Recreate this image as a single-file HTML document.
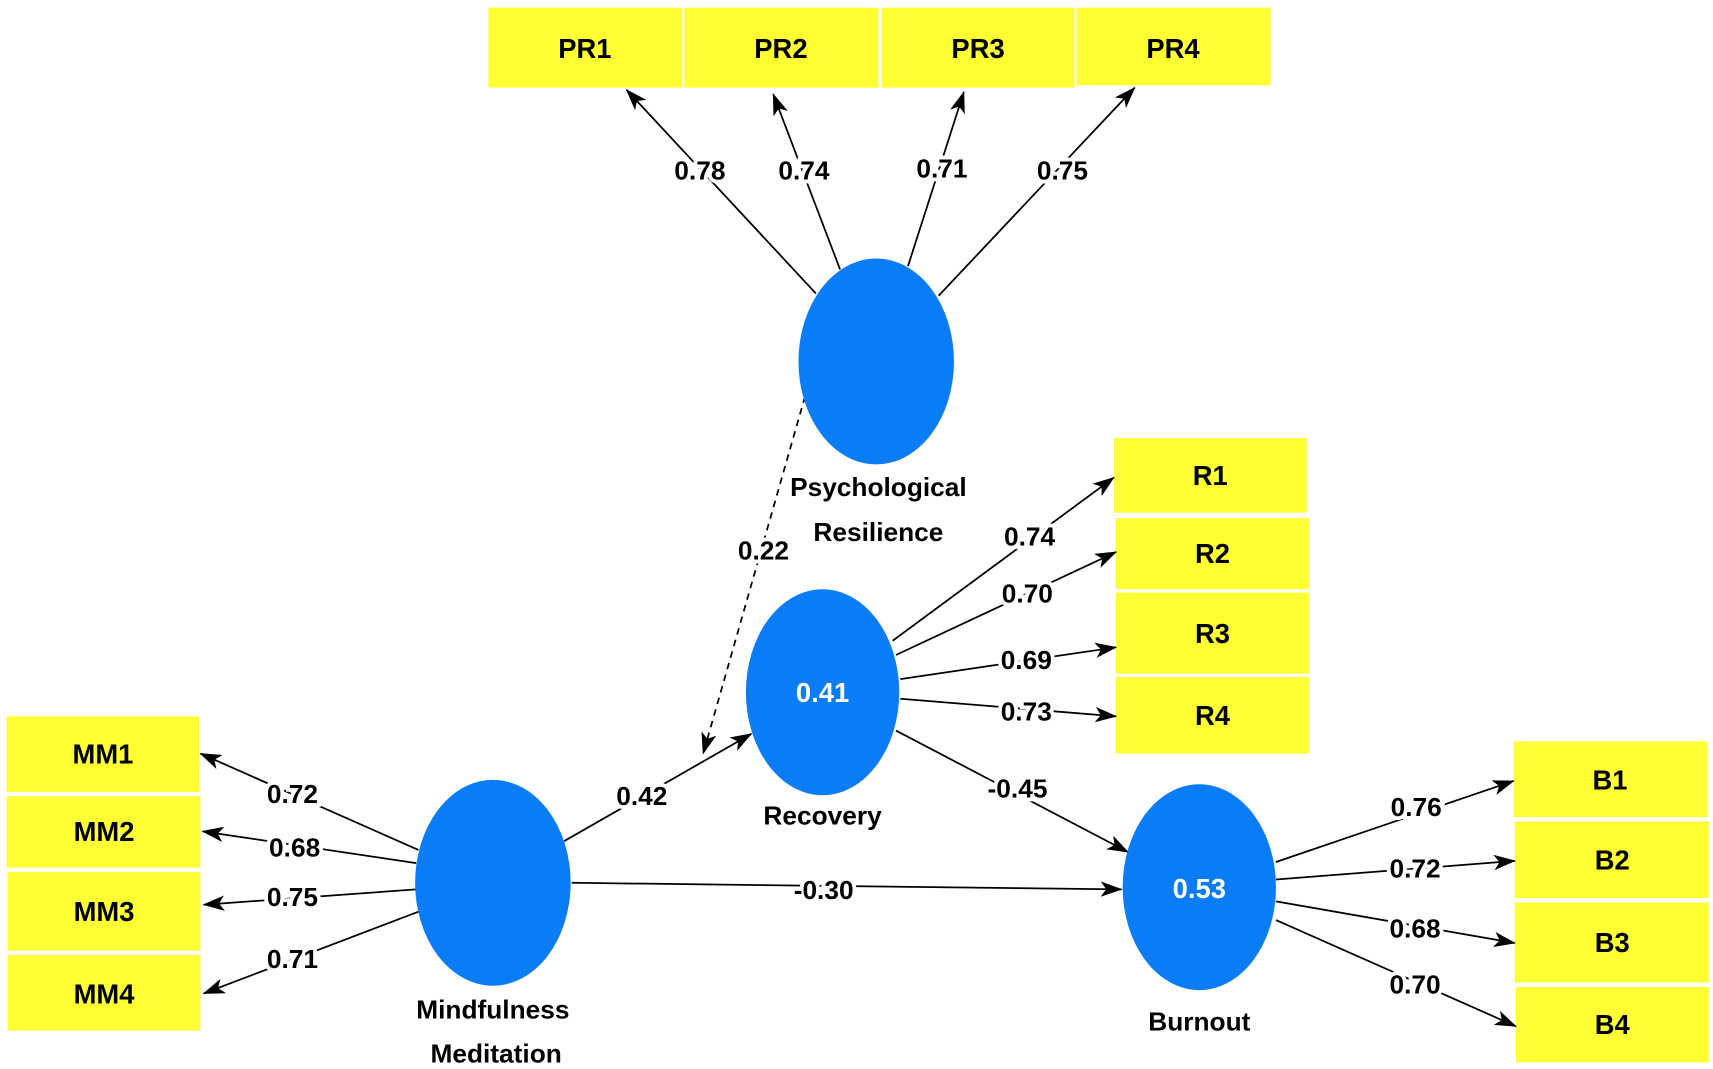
<!DOCTYPE html>
<html><head><meta charset="utf-8"><style>
html,body{margin:0;padding:0;background:#fff;}
svg{display:block;}
text{font-family:"Liberation Sans",Arial,sans-serif;font-weight:bold;}
</style></head><body>
<svg width="1713" height="1069" viewBox="0 0 1564 976" preserveAspectRatio="none" xmlns="http://www.w3.org/2000/svg">
<defs>
<marker id="a" viewBox="0 0 20 14" refX="19" refY="7" markerWidth="20" markerHeight="14" markerUnits="userSpaceOnUse" orient="auto-start-reverse">
<path d="M0,0 L20,7 L0,14 L5,7 Z" fill="#000"/>
</marker>
</defs>
<rect width="1564" height="976" fill="#fff"/>
<g fill="#ffff33">
<rect x="446" y="7" width="177" height="73"/>
<rect x="625" y="7" width="177" height="73"/>
<rect x="805" y="7" width="176" height="73"/>
<rect x="983" y="7" width="177" height="71"/>
<rect x="1017" y="400" width="176" height="68"/>
<rect x="1019" y="473" width="176" height="65"/>
<rect x="1019" y="541" width="176" height="74"/>
<rect x="1019" y="618" width="176" height="70"/>
<rect x="6" y="654" width="176" height="69"/>
<rect x="6" y="727" width="177" height="65"/>
<rect x="7" y="796" width="176" height="72"/>
<rect x="7" y="872" width="176" height="69"/>
<rect x="1382" y="677" width="177" height="69"/>
<rect x="1383" y="750" width="177" height="70"/>
<rect x="1383" y="824" width="177" height="73"/>
<rect x="1384" y="901" width="176" height="69"/>
</g>
<g stroke="#000" stroke-width="1.6" fill="none" marker-end="url(#a)">
<line x1="745" y1="268" x2="572" y2="82"/>
<line x1="767" y1="246" x2="706" y2="86"/>
<line x1="829" y1="243" x2="880" y2="84"/>
<line x1="857" y1="270" x2="1036" y2="80"/>
<line x1="815" y1="585" x2="1017" y2="436"/>
<line x1="818" y1="598" x2="1019" y2="504"/>
<line x1="822" y1="620" x2="1019" y2="591"/>
<line x1="822" y1="638" x2="1019" y2="654"/>
<line x1="515" y1="768" x2="686" y2="670"/>
<line x1="818" y1="667" x2="1030" y2="778"/>
<line x1="522" y1="806" x2="1024" y2="812"/>
<line x1="382" y1="776" x2="183" y2="688"/>
<line x1="380" y1="788" x2="185" y2="759"/>
<line x1="380" y1="812" x2="186" y2="826"/>
<line x1="383" y1="832" x2="186" y2="907"/>
<line x1="1165" y1="787" x2="1382" y2="713"/>
<line x1="1165" y1="803" x2="1383" y2="786"/>
<line x1="1165" y1="823" x2="1383" y2="861"/>
<line x1="1165" y1="840" x2="1384" y2="937"/>
<line x1="735" y1="362" x2="642" y2="688" stroke-dasharray="6,5"/>
</g>
<g fill="#0a7cf5">
<ellipse cx="800" cy="330" rx="71" ry="94"/>
<ellipse cx="751" cy="632" rx="70" ry="94"/>
<ellipse cx="450" cy="806" rx="71" ry="94"/>
<ellipse cx="1095" cy="810" rx="70" ry="94"/>
</g>
<g font-size="25" text-anchor="middle" fill="#000">
<text x="534" y="53">PR1</text><text x="713" y="53">PR2</text><text x="893" y="53">PR3</text><text x="1071" y="53">PR4</text>
<text x="1105" y="443">R1</text><text x="1107" y="514">R2</text><text x="1107" y="587">R3</text><text x="1107" y="662">R4</text>
<text x="94" y="697">MM1</text><text x="95" y="768">MM2</text><text x="95" y="841">MM3</text><text x="95" y="916">MM4</text>
<text x="1470" y="721">B1</text><text x="1472" y="794">B2</text><text x="1472" y="869">B3</text><text x="1472" y="944">B4</text>
</g>
<g font-size="24" text-anchor="middle" fill="#000">
<text x="802" y="453">Psychological</text>
<text x="802" y="494">Resilience</text>
<text x="751" y="753">Recovery</text>
<text x="450" y="930">Mindfulness</text>
<text x="453" y="970">Meditation</text>
<text x="1095" y="941">Burnout</text>
</g>
<g font-size="25" text-anchor="middle" fill="#fff">
<text x="751" y="641">0.41</text>
<text x="1095" y="820">0.53</text>
</g>
<g font-size="24" text-anchor="middle" fill="#000" stroke="#fff" stroke-width="7" paint-order="stroke">
<text x="639" y="164">0.78</text><text x="734" y="164">0.74</text><text x="860" y="162">0.71</text><text x="970" y="164">0.75</text>
<text x="697" y="511">0.22</text>
<text x="940" y="498">0.74</text><text x="938" y="550">0.70</text><text x="937" y="611">0.69</text><text x="937" y="658">0.73</text>
<text x="586" y="735">0.42</text><text x="929" y="728">-0.45</text><text x="752" y="821">-0.30</text>
<text x="267" y="733">0.72</text><text x="269" y="782">0.68</text><text x="267" y="827">0.75</text><text x="267" y="884">0.71</text>
<text x="1293" y="745">0.76</text><text x="1292" y="801">0.72</text><text x="1292" y="856">0.68</text><text x="1292" y="907">0.70</text>
</g>
</svg>
</body></html>
